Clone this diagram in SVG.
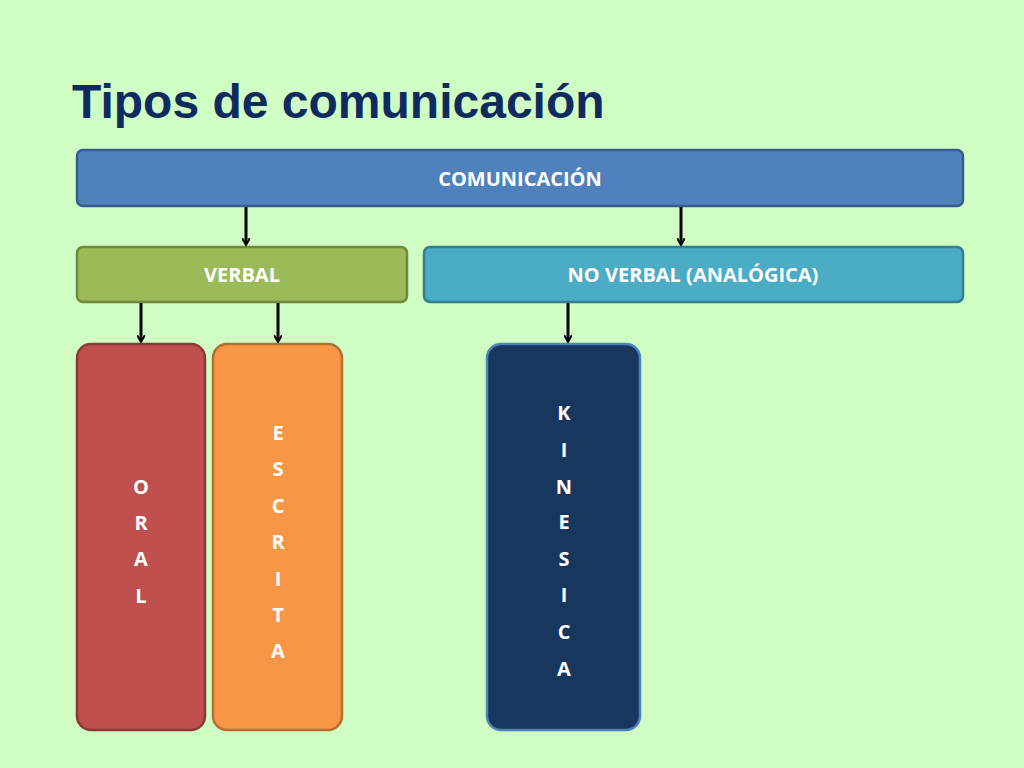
<svg xmlns="http://www.w3.org/2000/svg" width="1024" height="768" viewBox="0 0 1024 768">
<defs>
<style>
.t{font-family:"Open Sans","Liberation Sans",sans-serif;font-weight:bold;font-size:20px;fill:#fff;text-anchor:middle}
.c{stroke:#000;stroke-width:3;fill:none}
</style>
<marker id="a" markerWidth="8" markerHeight="8" refX="6" refY="4" orient="auto" markerUnits="userSpaceOnUse" viewBox="0 0 8 8"><path d="M0,0 L7,4 L0,8" fill="none" stroke="#000" stroke-width="2"/></marker>
</defs>
<rect width="1024" height="768" fill="#CFFDC3"/>
<text x="72" y="118" font-family="'Liberation Sans',Arial,sans-serif" font-weight="bold" font-size="48" fill="#0F2A5F">Tipos de comunicación</text>
<g id="comunicacion"><rect x="77" y="150" width="886" height="56" rx="6" fill="#4F81BD" stroke="#385D8A" stroke-width="2.5"/><text class="t" x="520" y="186">COMUNICACIÓN</text></g>
<g id="verbal"><rect x="77" y="247" width="330" height="55" rx="6" fill="#9BBB59" stroke="#71893F" stroke-width="2.5"/><text class="t" x="242" y="282">VERBAL</text></g>
<g id="noverbal"><rect x="424" y="247" width="539" height="55" rx="6" fill="#4BACC6" stroke="#357D91" stroke-width="2.5"/><text class="t" x="693" y="282">NO VERBAL (ANALÓGICA)</text></g>
<g id="oral"><rect x="77" y="344" width="128" height="386" rx="14" fill="#C0504D" stroke="#8C3836" stroke-width="2.5"/>
<text class="t" x="141" y="494">O</text><text class="t" x="141" y="530">R</text><text class="t" x="141" y="566">A</text><text class="t" x="141" y="603">L</text></g>
<g id="escrita"><rect x="213" y="344" width="129" height="386" rx="14" fill="#F79646" stroke="#B66D31" stroke-width="2.5"/>
<text class="t" x="278" y="440">E</text><text class="t" x="278" y="476">S</text><text class="t" x="278" y="513">C</text><text class="t" x="278" y="549">R</text><text class="t" x="278" y="586">I</text><text class="t" x="278" y="622">T</text><text class="t" x="278" y="658">A</text></g>
<g id="kinesica"><rect x="487" y="344" width="153" height="386" rx="14" fill="#17375E" stroke="#4F81BD" stroke-width="2.5"/>
<text class="t" x="564" y="420">K</text><text class="t" x="564" y="457">I</text><text class="t" x="564" y="494">N</text><text class="t" x="564" y="529">E</text><text class="t" x="564" y="566">S</text><text class="t" x="564" y="602">I</text><text class="t" x="564" y="639">C</text><text class="t" x="564" y="676">A</text></g>
<g id="connectors">
<line class="c" x1="246" y1="207" x2="246" y2="244" marker-end="url(#a)"/>
<line class="c" x1="681" y1="207" x2="681" y2="244" marker-end="url(#a)"/>
<line class="c" x1="141" y1="303" x2="141" y2="341" marker-end="url(#a)"/>
<line class="c" x1="278" y1="303" x2="278" y2="341" marker-end="url(#a)"/>
<line class="c" x1="568" y1="303" x2="568" y2="341" marker-end="url(#a)"/>
</g>
</svg>
